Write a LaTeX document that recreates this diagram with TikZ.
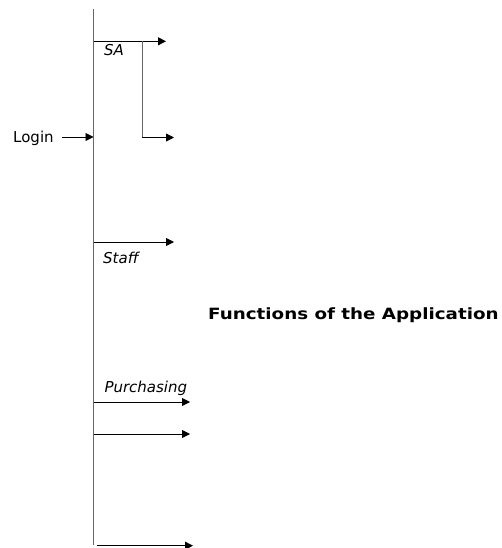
\documentclass[tikz,border=0pt]{standalone}
\usepackage{fontspec}
\setmainfont{DejaVu Sans}
\usetikzlibrary{arrows.meta}
\begin{document}
\begin{tikzpicture}[x=1pt,y=-1pt,
  flow/.style={draw=black, line width=0.9pt, -{Triangle[length=8pt,width=8pt]}},
  lane/.style={draw=gray!80!black, line width=1pt},
  lbl/.style={font=\fontsize{15}{18}\selectfont, inner sep=0pt, anchor=base west},
  role/.style={lbl, font=\fontsize{15}{18}\selectfont\itshape},
  title/.style={lbl, font=\fontsize{15.5}{18}\selectfont\bfseries}]
\useasboundingbox (0,0) rectangle (502,548);

% main lane
\coordinate (top) at (93.5,9.5);
\coordinate (bot) at (93.5,545);
\draw[lane] (top) -- (bot);

% entry
\node[lbl] (login) at (13,142.7) {Login};
\coordinate (lgs) at (62,137);
\coordinate (in) at (93.5,137);
\draw[flow] (lgs) -- (in);

% SA branch
\coordinate (sa0) at (93.5,41.3);
\coordinate (sa1) at (166,41.3);
\coordinate (saj) at (142.3,41.3);
\coordinate (sak) at (142.3,137.5);
\coordinate (sa2) at (174,137.5);
\draw[flow] (sa0) -- (sa1);
\draw[lane] (saj) -- (sak);
\draw[flow] (sak) -- (sa2);
\node[role] (sa) at (104,55.7) {SA};

% Staff
\coordinate (st0) at (93.5,242);
\coordinate (st1) at (174,242);
\draw[flow] (st0) -- (st1);
\node[role] (staff) at (103,263) {Staff};

% title
\node[title, xscale=1.18] (fn) at (208,319) {Functions of the Application};

% Purchasing
\node[role] (pur) at (104.3,392.3) {Purchasing};
\coordinate (p0) at (93.5,402);
\coordinate (p1) at (190,402);
\draw[flow] (p0) -- (p1);
\coordinate (q0) at (93.5,434);
\coordinate (q1) at (190,434);
\draw[flow] (q0) -- (q1);
\coordinate (r0) at (97,545.7);
\coordinate (r1) at (193,545.7);
\draw[flow] (r0) -- (r1);
\end{tikzpicture}
\end{document}
